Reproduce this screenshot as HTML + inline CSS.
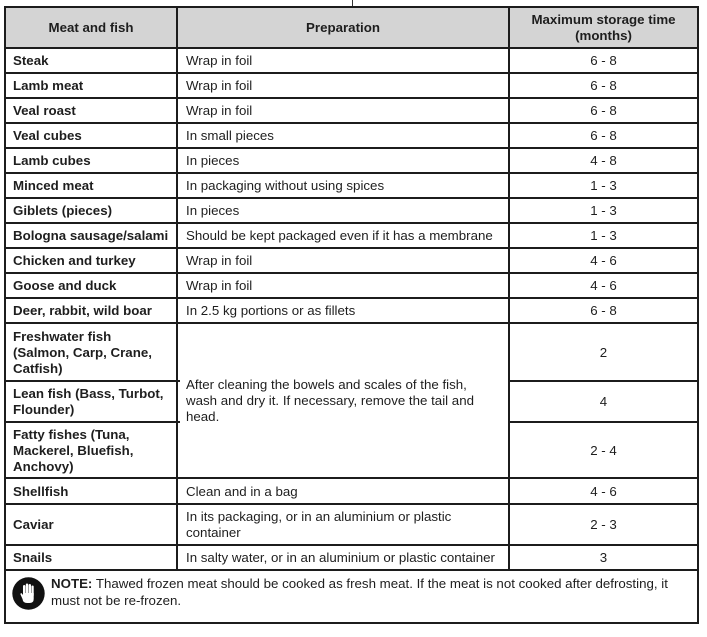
<!DOCTYPE html>
<html>
<head>
<meta charset="utf-8">
<style>
  html,body{margin:0;padding:0;background:#fff;}
  body{width:707px;height:637px;position:relative;overflow:hidden;font-family:"Liberation Sans",Arial,sans-serif;color:#1e1e1e;}
  .h{position:absolute;height:2px;background:#1c1c1c;}
  .v{position:absolute;width:2px;background:#1c1c1c;}
  .t{position:absolute;font-size:13.3px;line-height:16px;white-space:nowrap;}
  .b{font-weight:bold;}
  .n{left:13px;}
  .p{left:186px;}
  .c{left:510px;width:187px;text-align:center;}
</style>
</head>
<body>
<div style="position:absolute;left:352px;top:0;width:1px;height:7px;background:#333;"></div>

<div style="position:absolute;left:5px;top:7px;width:693px;height:41px;background:#d4d4d4;"></div>

<div class="h" style="left:4px;width:695px;top:6px;"></div>
<div class="h" style="left:4px;width:695px;top:47px;"></div>
<div class="h" style="left:4px;width:695px;top:72px;"></div>
<div class="h" style="left:4px;width:695px;top:97px;"></div>
<div class="h" style="left:4px;width:695px;top:122px;"></div>
<div class="h" style="left:4px;width:695px;top:147px;"></div>
<div class="h" style="left:4px;width:695px;top:172px;"></div>
<div class="h" style="left:4px;width:695px;top:197px;"></div>
<div class="h" style="left:4px;width:695px;top:222px;"></div>
<div class="h" style="left:4px;width:695px;top:247px;"></div>
<div class="h" style="left:4px;width:695px;top:272px;"></div>
<div class="h" style="left:4px;width:695px;top:297px;"></div>
<div class="h" style="left:4px;width:695px;top:322px;"></div>
<div class="h" style="left:4px;width:176px;top:380px;"></div>
<div class="h" style="left:508px;width:191px;top:380px;"></div>
<div class="h" style="left:4px;width:176px;top:421px;"></div>
<div class="h" style="left:508px;width:191px;top:421px;"></div>
<div class="h" style="left:4px;width:695px;top:477px;"></div>
<div class="h" style="left:4px;width:695px;top:503px;"></div>
<div class="h" style="left:4px;width:695px;top:544px;"></div>
<div class="h" style="left:4px;width:695px;top:569px;"></div>
<div class="h" style="left:4px;width:695px;top:622px;"></div>

<div class="v" style="left:4px;top:6px;height:618px;"></div>
<div class="v" style="left:176px;top:6px;height:565px;"></div>
<div class="v" style="left:508px;top:6px;height:565px;"></div>
<div class="v" style="left:697px;top:6px;height:618px;"></div>

<div class="t b" style="left:6px;width:170px;text-align:center;top:19.5px;">Meat and fish</div>
<div class="t b" style="left:178px;width:330px;text-align:center;top:19.5px;">Preparation</div>
<div class="t b c" style="top:12px;">Maximum storage time<br>(months)</div>

<div class="t b n" style="top:53px;">Steak</div>
<div class="t p" style="top:53px;">Wrap in foil</div>
<div class="t c" style="top:53px;">6 - 8</div>

<div class="t b n" style="top:78px;">Lamb meat</div>
<div class="t p" style="top:78px;">Wrap in foil</div>
<div class="t c" style="top:78px;">6 - 8</div>

<div class="t b n" style="top:103px;">Veal roast</div>
<div class="t p" style="top:103px;">Wrap in foil</div>
<div class="t c" style="top:103px;">6 - 8</div>

<div class="t b n" style="top:128px;">Veal cubes</div>
<div class="t p" style="top:128px;">In small pieces</div>
<div class="t c" style="top:128px;">6 - 8</div>

<div class="t b n" style="top:153px;">Lamb cubes</div>
<div class="t p" style="top:153px;">In pieces</div>
<div class="t c" style="top:153px;">4 - 8</div>

<div class="t b n" style="top:178px;">Minced meat</div>
<div class="t p" style="top:178px;">In packaging without using spices</div>
<div class="t c" style="top:178px;">1 - 3</div>

<div class="t b n" style="top:203px;">Giblets (pieces)</div>
<div class="t p" style="top:203px;">In pieces</div>
<div class="t c" style="top:203px;">1 - 3</div>

<div class="t b n" style="top:228px;">Bologna sausage/salami</div>
<div class="t p" style="top:228px;">Should be kept packaged even if it has a membrane</div>
<div class="t c" style="top:228px;">1 - 3</div>

<div class="t b n" style="top:253px;">Chicken and turkey</div>
<div class="t p" style="top:253px;">Wrap in foil</div>
<div class="t c" style="top:253px;">4 - 6</div>

<div class="t b n" style="top:278px;">Goose and duck</div>
<div class="t p" style="top:278px;">Wrap in foil</div>
<div class="t c" style="top:278px;">4 - 6</div>

<div class="t b n" style="top:303px;">Deer, rabbit, wild boar</div>
<div class="t p" style="top:303px;">In 2.5 kg portions or as fillets</div>
<div class="t c" style="top:303px;">6 - 8</div>

<div class="t b n" style="top:328.5px;">Freshwater fish<br>(Salmon, Carp, Crane,<br>Catfish)</div>
<div class="t c" style="top:344.5px;">2</div>

<div class="t b n" style="top:386px;">Lean fish (Bass, Turbot,<br>Flounder)</div>
<div class="t c" style="top:394px;">4</div>

<div class="t b n" style="top:426.5px;">Fatty fishes (Tuna,<br>Mackerel, Bluefish,<br>Anchovy)</div>
<div class="t c" style="top:442.5px;">2 - 4</div>

<div class="t p" style="top:377px;">After cleaning the bowels and scales of the fish,<br>wash and dry it. If necessary, remove the tail and<br>head.</div>

<div class="t b n" style="top:483.5px;">Shellfish</div>
<div class="t p" style="top:483.5px;">Clean and in a bag</div>
<div class="t c" style="top:483.5px;">4 - 6</div>

<div class="t b n" style="top:517px;">Caviar</div>
<div class="t p" style="top:509px;">In its packaging, or in an aluminium or plastic<br>container</div>
<div class="t c" style="top:517px;">2 - 3</div>

<div class="t b n" style="top:550px;">Snails</div>
<div class="t p" style="top:550px;">In salty water, or in an aluminium or plastic container</div>
<div class="t c" style="top:550px;">3</div>

<svg style="position:absolute;left:12px;top:577px;" width="33" height="33" viewBox="0 0 33 33">
  <circle cx="16.5" cy="16.5" r="16.2" fill="#111"/>
  <rect x="11" y="8" width="2.4" height="11" rx="1.2" fill="#fff"/>
  <rect x="13.8" y="6.5" width="2.4" height="12" rx="1.2" fill="#fff"/>
  <rect x="16.6" y="7" width="2.4" height="12" rx="1.2" fill="#fff"/>
  <rect x="19.4" y="8.5" width="2.3" height="11" rx="1.1" fill="#fff"/>
  <path d="M11 16 L21.7 16 L21.7 22 Q21.7 26 17.5 26 L15 26 Q11 26 10.5 22 L8.5 17.5 Q8.3 16 9.6 16.2 L11 18 Z" fill="#fff"/>
</svg>
<div class="t" style="left:51px;top:575px;line-height:17px;"><b>NOTE:</b> Thawed frozen meat should be cooked as fresh meat. If the meat is not cooked after defrosting, it<br>must not be re-frozen.</div>
</body>
</html>
